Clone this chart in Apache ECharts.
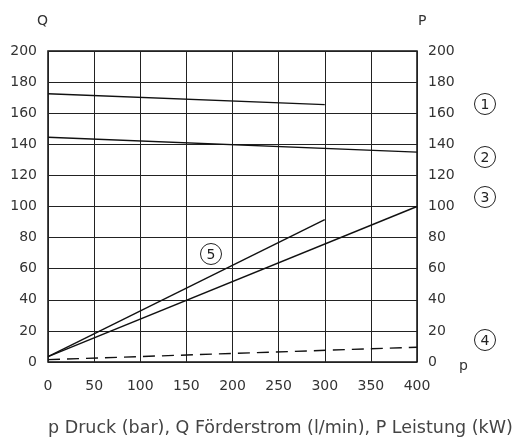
<!DOCTYPE html>
<html><head><meta charset="utf-8">
<script src="https://cdn.jsdelivr.net/npm/echarts@6/dist/echarts.min.js"></script>
<style>html,body{margin:0;padding:0;background:#fff}#c{width:520px;height:440px}</style>
</head><body><div id="c"></div>
<script>
// Data
var xTicks = [0, 50, 100, 150, 200, 250, 300, 350, 400];
var line1X = [0, 300];   var line1Y = [172.5, 165.5]; // curve 1 (Q)
var line2X = [0, 400];   var line2Y = [144.5, 135];   // curve 2 (Q)
var line3X = [0, 400];   var line3Y = [3.5, 100];     // curve 3 (P)
var line5X = [0, 300];   var line5Y = [3.5, 91.5];    // curve 5 (P)
var line4X = [0, 400];   var line4Y = [1.5, 9.5];     // curve 4 (P, dashed)
var caption = 'p Druck (bar), Q Förderstrom (l/min), P Leistung (kW)';
var curveLabels = ['1', '2', '3', '4', '5'];

function pts(xs, ys){ return xs.map(function(x,i){ return [x, ys[i]]; }); }

var chart = echarts.init(document.getElementById('c'));
var font = 'DejaVu Sans';
function mk(name, xs, ys, yIdx, dashed){
  return {type:'line', name:name, data:pts(xs, ys), yAxisIndex:yIdx, symbol:'none', silent:true,
    lineStyle:{color:'#111', width:1.4, type: dashed ? [12,7] : 'solid'}};
}
function circ(txt, x, y){
  return {type:'group', children:[
    {type:'circle', shape:{cx:x, cy:y, r:10.5}, style:{fill:'none', stroke:'#222', lineWidth:1}},
    {type:'text', style:{x:x, y:y+1, text:txt, font:'14px '+font, fill:'#222', align:'center', verticalAlign:'middle'}}
  ]};
}
var axisLabelStyle = {color:'#333', fontFamily:font, fontSize:14};
chart.setOption({
  animation:false,
  grid:{left:48, right:103, top:51, bottom:78, show:true, borderColor:'#111', borderWidth:1.5, backgroundColor:'transparent'},
  xAxis:{type:'value', min:0, max:400, interval:50,
    axisLine:{show:false}, axisTick:{show:false},
    axisLabel:Object.assign({margin:17}, axisLabelStyle),
    splitLine:{show:true, lineStyle:{color:'#222', width:1}}},
  yAxis:[
    {type:'value', min:0, max:200, interval:20, position:'left',
     axisLine:{show:false}, axisTick:{show:false},
     axisLabel:Object.assign({margin:11}, axisLabelStyle),
     splitLine:{show:true, lineStyle:{color:'#222', width:1}}},
    {type:'value', min:0, max:200, interval:20, position:'right',
     axisLine:{show:false}, axisTick:{show:false},
     axisLabel:Object.assign({margin:11}, axisLabelStyle),
     splitLine:{show:false}}
  ],
  series:[
    mk('1', line1X, line1Y, 0, false),
    mk('2', line2X, line2Y, 0, false),
    mk('3', line3X, line3Y, 1, false),
    mk('5', line5X, line5Y, 1, false),
    mk('4', line4X, line4Y, 1, true)
  ],
  graphic:[
    {type:'text', left:37, top:14, style:{text:'Q', font:'14px '+font, fill:'#333'}},
    {type:'text', left:418, top:14, style:{text:'P', font:'14px '+font, fill:'#333'}},
    {type:'text', left:459, top:359, style:{text:'p', font:'14px '+font, fill:'#333'}},
    circ(curveLabels[0], 485, 104),
    circ(curveLabels[1], 485, 157),
    circ(curveLabels[2], 485, 197),
    circ(curveLabels[3], 485, 340),
    circ(curveLabels[4], 211, 254),
    {type:'text', left:48, top:419, style:{text:caption, font:'17.5px '+font, fill:'#444'}}
  ]
});
</script></body></html>
